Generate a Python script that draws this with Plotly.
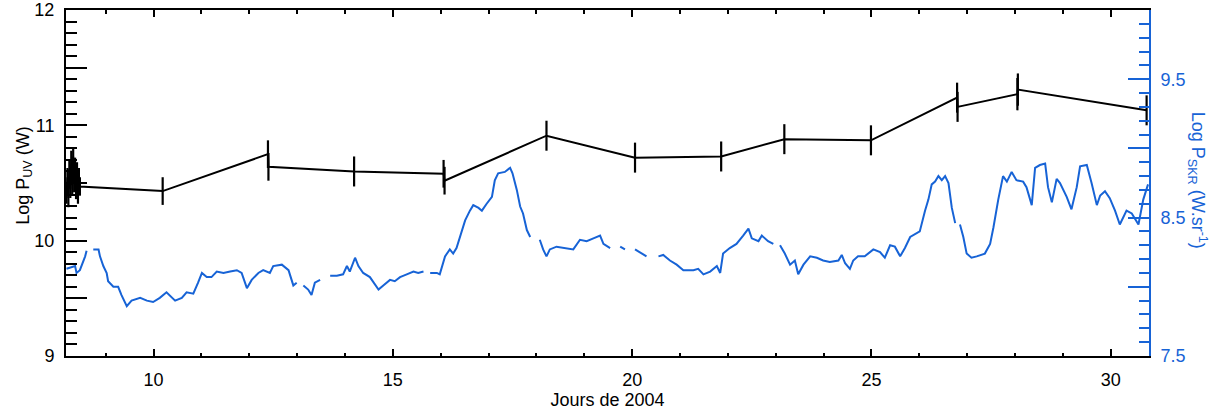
import plotly.graph_objects as go

# ---- UV power (left axis, log W) ----
uv_day = [8.18, 8.20, 8.22, 8.24, 8.26, 8.28, 8.30, 8.32, 8.34, 8.36, 8.38, 8.40, 8.42, 8.44, 8.46,
          10.19, 12.39, 12.40, 14.19, 16.06, 16.08, 18.21, 20.06, 21.86, 23.18, 24.99,
          26.79, 26.80, 28.05, 28.06, 30.75]
uv_val = [10.40, 10.55, 10.37, 10.62, 10.45, 10.70, 10.48, 10.73, 10.50, 10.64, 10.44, 10.60, 10.40, 10.55, 10.47,
          10.43, 10.75, 10.64, 10.60, 10.58, 10.52, 10.91, 10.72, 10.73, 10.88, 10.87,
          11.24, 11.16, 11.27, 11.31, 11.13]
uv_err = [0.08, 0.08, 0.08, 0.08, 0.08, 0.08, 0.08, 0.08, 0.08, 0.08, 0.08, 0.08, 0.08, 0.08, 0.08,
          0.12, 0.12, 0.12, 0.13, 0.12, 0.12, 0.13, 0.13, 0.13, 0.13, 0.13,
          0.13, 0.13, 0.14, 0.14, 0.13]

# ---- SKR power (right axis, log W/sr); None = data gap ----
skr_day = [8.18, 8.36, 8.39, 8.46, 8.57, 8.60, None,
           8.74, 8.85, 8.88, 8.95, 9.02, 9.05, 9.16, 9.26, 9.33, 9.44, 9.54, 9.72, 9.86, 9.99,
           10.13, 10.27, 10.45, 10.59, 10.69, 10.83, 10.93, 11.01, 11.11, 11.21, 11.32, 11.46,
           11.60, 11.74, 11.84, 11.95, 12.05, 12.19, 12.29, 12.43, 12.50, 12.68, 12.82, 12.92, 12.99, None,
           13.13, 13.23, 13.30, 13.37, 13.48, None,
           13.69, 13.83, 13.96, 14.04, 14.10, 14.21, 14.28, 14.38, 14.52, 14.63, 14.70, 14.80,
           14.94, 15.04, 15.15, 15.29, 15.43, 15.53, 15.64, None,
           15.78, 15.92, 15.98, 16.09, 16.19, 16.26, 16.33, 16.44, 16.51, 16.61, 16.68, 16.79,
           16.86, 16.96, 17.07, 17.13, 17.20, 17.34, 17.45, 17.50, 17.59, 17.66, 17.72, 17.80, 17.87, None,
           18.07, 18.14, 18.21, 18.28, 18.42, 18.56, 18.77, 18.91, 19.05, 19.19, 19.33, 19.40, 19.54, None,
           19.75, 19.85, None,
           20.06, 20.16, 20.30, None,
           20.55, 20.65, 20.79, 20.93, 21.07, 21.28, 21.38, 21.49, 21.63, 21.77, 21.84, 21.90,
           22.04, 22.18, 22.32, 22.43, 22.50, 22.64, 22.71, 22.84, 22.95, None,
           23.09, 23.19, 23.30, 23.40, 23.47, 23.58, 23.72, 23.86, 23.99, 24.13, 24.31, 24.38,
           24.45, 24.55, 24.62, 24.72, 24.86, 25.04, 25.18, 25.28, 25.39, 25.49, 25.60, 25.70,
           25.81, 25.95, 26.01, 26.12, 26.19, 26.26, 26.33, 26.40, 26.47, 26.54, 26.61, 26.68, 26.75, None,
           26.85, 26.92, 26.99, 27.09, 27.20, 27.37, 27.48, 27.55, 27.65, 27.75, 27.83, 27.93,
           28.03, 28.17, 28.24, 28.35, 28.42, 28.52, 28.63, 28.69, 28.77, 28.87, 28.94, 29.08,
           29.18, 29.29, 29.36, 29.50, 29.60, 29.71, 29.78, 29.88, 29.98, 30.09, 30.19, 30.33,
           30.44, 30.58, 30.68, 30.78]
skr_val = [8.13, 8.15, 8.10, 8.12, 8.22, 8.26, None,
           8.27, 8.27, 8.22, 8.15, 8.10, 8.04, 8.00, 8.00, 7.94, 7.86, 7.90, 7.92, 7.90, 7.89,
           7.92, 7.96, 7.90, 7.92, 7.96, 7.95, 8.03, 8.10, 8.07, 8.07, 8.11, 8.10,
           8.11, 8.12, 8.10, 7.99, 8.05, 8.10, 8.12, 8.10, 8.15, 8.16, 8.12, 8.01, 8.03, None,
           8.01, 7.98, 7.94, 8.03, 8.05, None,
           8.08, 8.08, 8.09, 8.15, 8.11, 8.21, 8.15, 8.10, 8.07, 8.01, 7.98, 8.01,
           8.05, 8.04, 8.07, 8.09, 8.11, 8.10, 8.11, None,
           8.10, 8.10, 8.09, 8.22, 8.27, 8.24, 8.28, 8.40, 8.48, 8.55, 8.59, 8.57,
           8.55, 8.60, 8.65, 8.77, 8.82, 8.83, 8.86, 8.82, 8.70, 8.58, 8.53, 8.41, 8.36, None,
           8.34, 8.27, 8.22, 8.27, 8.29, 8.28, 8.27, 8.34, 8.33, 8.35, 8.37, 8.31, 8.28, None,
           8.29, 8.27, None,
           8.27, 8.25, 8.22, None,
           8.22, 8.23, 8.19, 8.16, 8.12, 8.12, 8.13, 8.09, 8.11, 8.15, 8.10, 8.24,
           8.28, 8.31, 8.37, 8.42, 8.35, 8.33, 8.37, 8.33, 8.31, None,
           8.30, 8.24, 8.16, 8.19, 8.09, 8.16, 8.22, 8.21, 8.19, 8.18, 8.19, 8.23,
           8.17, 8.13, 8.19, 8.22, 8.22, 8.27, 8.25, 8.21, 8.30, 8.29, 8.22, 8.28,
           8.36, 8.39, 8.40, 8.55, 8.63, 8.74, 8.76, 8.80, 8.77, 8.80, 8.75, 8.57, 8.46, None,
           8.45, 8.36, 8.24, 8.21, 8.22, 8.24, 8.31, 8.43, 8.63, 8.80, 8.76, 8.83,
           8.77, 8.76, 8.72, 8.59, 8.86, 8.88, 8.89, 8.72, 8.61, 8.78, 8.75, 8.65,
           8.56, 8.72, 8.87, 8.88, 8.75, 8.59, 8.66, 8.69, 8.64, 8.55, 8.45, 8.55,
           8.53, 8.45, 8.63, 8.74]

# ---- axis ticks ----
uv_tickvals = [9.0, 9.5, 10.0, 10.5, 11.0, 11.5, 12.0]
uv_ticktext = ["9", "", "10", "", "11", "", "12"]
skr_tickvals = [7.5, 8.0, 8.5, 9.0, 9.5, 10.0]
skr_ticktext = ["7.5", "", "8.5", "", "9.5", ""]

BLUE = "#1763d6"
FONT = "Liberation Sans, Arial, Helvetica, sans-serif"

fig = go.Figure()

fig.add_trace(go.Scatter(
    x=skr_day, y=skr_val, mode="lines", yaxis="y2",
    line=dict(color=BLUE, width=2), connectgaps=False, showlegend=False,
))

fig.add_trace(go.Scatter(
    x=uv_day, y=uv_val, mode="lines",
    line=dict(color="black", width=2),
    error_y=dict(type="data", array=uv_err, visible=True, color="black",
                 thickness=2.2, width=0),
    showlegend=False,
))

fig.update_layout(
    width=1223, height=414,
    margin=dict(l=66, r=74, t=10, b=58),
    paper_bgcolor="white", plot_bgcolor="white",
    font=dict(family=FONT, size=18, color="black"),
    xaxis=dict(
        range=[8.17, 30.80], showgrid=False, zeroline=False, automargin=False,
        showline=True, linecolor="black", linewidth=2, mirror="ticks",
        ticks="inside", ticklen=7, tickwidth=1.5, tickcolor="black",
        tick0=0, dtick=5,
        minor=dict(ticks="inside", ticklen=3.5, tickwidth=1.5, dtick=1, tick0=0, tickcolor="black"),
        tickfont=dict(size=18), ticklabelstandoff=6,
        title=dict(text="Jours de 2004", font=dict(size=18), standoff=2),
    ),
    yaxis=dict(
        range=[9, 12], showgrid=False, zeroline=False, automargin=False,
        showline=True, linecolor="black", linewidth=2,
        ticks="inside", ticklen=21, tickwidth=1.5, tickcolor="black",
        tickmode="array", tickvals=uv_tickvals, ticktext=uv_ticktext,
        minor=dict(ticks="inside", ticklen=11, tickwidth=1.5, dtick=0.1, tick0=9, tickcolor="black"),
        tickfont=dict(size=18), ticklabelstandoff=6,
    ),
    yaxis2=dict(
        range=[7.5, 10], overlaying="y", side="right", anchor="x", automargin=False,
        showgrid=False, zeroline=False,
        showline=True, linecolor=BLUE, linewidth=2,
        ticks="inside", ticklen=21, tickwidth=1.5, tickcolor=BLUE,
        tickmode="array", tickvals=skr_tickvals, ticktext=skr_ticktext,
        minor=dict(ticks="inside", ticklen=10, tickwidth=1.5, dtick=0.1, tick0=7.5, tickcolor=BLUE),
        tickfont=dict(size=18, color=BLUE), ticklabelstandoff=6,
    ),
    annotations=[
        dict(text="Log P<sub>UV</sub> (W)", xref="paper", yref="paper",
             x=-0.039, y=0.523, xanchor="center", yanchor="middle",
             textangle=-90, showarrow=False, font=dict(size=18, color="black", family=FONT)),
        dict(text="Log P<sub>SKR</sub> (W.sr<sup>-1</sup>)", xref="paper", yref="paper",
             x=1.0445, y=0.509, xanchor="center", yanchor="middle",
             textangle=90, showarrow=False, font=dict(size=18, color=BLUE, family=FONT)),
    ],
)

fig.write_html("out.html", config={"displayModeBar": False},
               post_script="document.body.style.margin='0';document.body.style.overflow='hidden';")
